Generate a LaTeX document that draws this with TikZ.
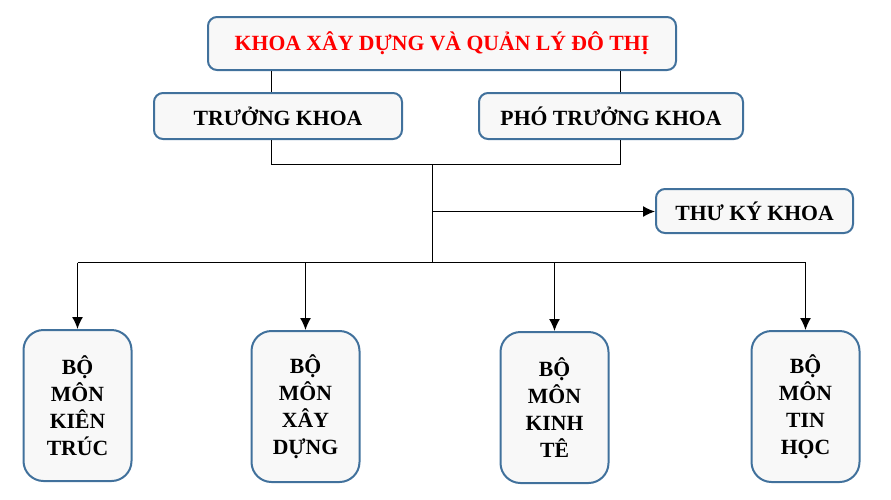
\documentclass[tikz,border=0pt]{standalone}
\usepackage{fontspec}
\setmainfont{Liberation Serif}
\usetikzlibrary{arrows.meta}
\tikzset{>={Latex[length=12pt,width=11pt]}}
\definecolor{boxblue}{RGB}{65,113,156}
\definecolor{boxfill}{RGB}{248,248,248}
\tikzstyle{unit}=[draw=boxblue,line width=2pt,fill=boxfill,rounded corners=9pt,
  inner sep=0pt,font=\bfseries\fontsize{21.7}{27}\selectfont]
\tikzstyle{dept}=[unit,rounded corners=20pt,align=center,minimum width=108pt,minimum height=151pt]
\tikzstyle{link}=[line width=1.3pt,black]

\begin{document}
\begin{tikzpicture}[x=1pt,y=-1pt]
  \useasboundingbox (0,0) rectangle (891,499);
  % BOXES
  \node[unit,text=red,minimum width=468pt,minimum height=53pt] (title) at (442,43.5)
    {KHOA XÂY DỰNG VÀ QUẢN LÝ ĐÔ THỊ};
  \node[unit,minimum width=248pt,minimum height=46pt] (truong) at (278,116) {TRƯỞNG KHOA};
  \node[unit,minimum width=264pt,minimum height=46pt] (pho) at (611,116) {PHÓ TRƯỞNG KHOA};
  \node[unit,minimum width=197pt,minimum height=44pt] (thuky) at (754.5,211) {THƯ KÝ KHOA};
  \node[dept] (bm1) at (77.5,405.5) {BỘ\\MÔN\\KIÊN\\TRÚC};
  \node[dept] (bm2) at (305.5,406.5) {BỘ\\MÔN\\XÂY\\DỰNG};
  \node[dept] (bm3) at (554.5,407.5) {BỘ\\MÔN\\KINH\\TÊ};
  \node[dept] (bm4) at (805.5,406.5) {BỘ\\MÔN\\TIN\\HỌC};

  \coordinate (j1) at (271.5,164.5); % under truong khoa
  \coordinate (j2) at (620.5,164.5); % under pho truong khoa
  \coordinate (jc) at (432.5,164.5); % middle
  \coordinate (js) at (432.5,211.5); % to thu ky
  \coordinate (jb) at (432.5,262.5); % bus

  % LINKS
  \draw[link] (title.south -| j1) -- (truong.north -| j1);
  \draw[link] (title.south -| j2) -- (pho.north -| j2);
  \draw[link] (truong.south -| j1) -- (j1) -- (j2) -- (pho.south -| j2);
  \draw[link] (jc) -- (jb);
  \draw[link,->] (js) -- (thuky.west |- js);
  \draw[link] (bm1.north |- jb) -- (bm4.north |- jb);
  \foreach \n in {bm1,bm2,bm3,bm4}
    \draw[link,->] (\n.north |- jb) -- (\n.north);
\end{tikzpicture}
\end{document}
